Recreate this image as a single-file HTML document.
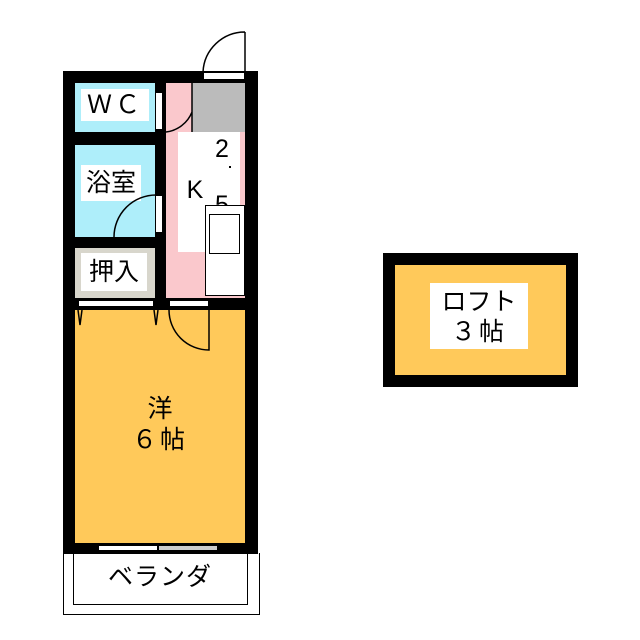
<!DOCTYPE html><html><head><style>
body{margin:0;background:#fff;width:640px;height:640px;position:relative;font-family:"Liberation Sans","Noto Sans CJK JP",sans-serif;overflow:hidden}
div{position:absolute;box-sizing:border-box}
.t{font-size:25px;color:#000;text-align:center;line-height:28px}
</style></head><body>
<div style="left:63px;top:71px;width:195px;height:483px;background:#000"></div>
<div style="left:75px;top:83px;width:80px;height:49px;background:#aeeefa"></div>
<div style="left:75px;top:145px;width:80px;height:92px;background:#aeeefa"></div>
<div style="left:75px;top:248px;width:80px;height:50px;background:#d8d6cc"></div>
<div style="left:166px;top:83px;width:79px;height:215px;background:#fac8cc"></div>
<div style="left:192px;top:83px;width:53px;height:49px;background:#bbb"></div>
<div style="left:178px;top:132px;width:62px;height:120px;background:#fff"></div>
<div style="left:205px;top:205px;width:40px;height:91px;background:#fff;border:1px solid #000"></div>
<div style="left:209px;top:214px;width:31px;height:40px;border:1.5px solid #000"></div>
<div style="left:75px;top:310px;width:170px;height:233px;background:#ffc95a"></div>
<div style="left:81px;top:89px;width:68px;height:32px;background:#fff"></div>
<div class="t" style="left:79px;top:91px;width:72px;letter-spacing:3px">ＷＣ</div>
<div style="left:81px;top:165px;width:60px;height:36px;background:#fff"></div>
<div class="t" style="left:79px;top:169px;width:64px">浴室</div>
<div style="left:81px;top:253px;width:66px;height:38px;background:#fff"></div>
<div class="t" style="left:81px;top:258px;width:66px">押入</div>
<div class="t" style="left:207px;top:135px;width:30px">2</div>
<div style="left:229px;top:166px;width:2px;height:2px;background:#000"></div>
<div class="t" style="left:178px;top:176px;width:34px">K</div>
<div class="t" style="left:207px;top:191px;width:30px;height:14px;overflow:hidden">5</div>
<div style="left:203px;top:72px;width:42px;height:8px;background:#fff;border:1px solid #000"></div>
<div style="left:155px;top:92px;width:8px;height:38px;background:#fff;border:1px solid #000"></div>
<div style="left:155px;top:195px;width:8px;height:38px;background:#fff;border:1px solid #000"></div>
<div style="left:78px;top:300px;width:76px;height:7px;background:#fff;border:1px solid #000"></div>
<div style="left:169px;top:300px;width:40px;height:7px;background:#fff;border:1px solid #000"></div>
<div style="left:98px;top:545px;width:60px;height:6px;background:#fff;border:1px solid #000"></div>
<div style="left:158px;top:545px;width:60px;height:6px;background:#ccc;border:1px solid #000"></div>
<svg width="640" height="640" style="position:absolute;left:0;top:0" fill="none" stroke="#000" stroke-width="1.5">
<path d="M245 32 A42 42 0 0 0 203 72 M245 32 V72"/>
<path d="M166 132 A32 32 0 0 0 192 112 M192 83 V132"/>
<path d="M114 237 A42 42 0 0 1 156 195"/>
<path d="M169 310 A40 40 0 0 0 209 350 V310"/>
<path d="M78 310 L80 325 L82 310 M154 310 L156 325 L158 310"/>
<path d="M158 543 V553"/>
</svg>
<div class="t" style="left:120px;top:395px;width:80px">洋</div>
<div class="t" style="left:115px;top:426px;width:90px;letter-spacing:3px">６帖</div>
<div style="left:63px;top:553px;width:197px;height:62px;border:1.5px solid #000;border-top:none"></div>
<div style="left:73px;top:553px;width:175px;height:52px;border:1.5px solid #000;border-top:none"></div>
<div class="t" style="left:75px;top:563px;width:170px;letter-spacing:1px">ベランダ</div>
<div style="left:383px;top:253px;width:195px;height:134px;background:#000"></div>
<div style="left:395px;top:265px;width:171px;height:110px;background:#ffc95a"></div>
<div style="left:430px;top:283px;width:98px;height:66px;background:#fff"></div>
<div class="t" style="left:425px;top:288px;width:108px">ロフト</div>
<div class="t" style="left:425px;top:318px;width:108px;letter-spacing:3px">３帖</div>
</body></html>
